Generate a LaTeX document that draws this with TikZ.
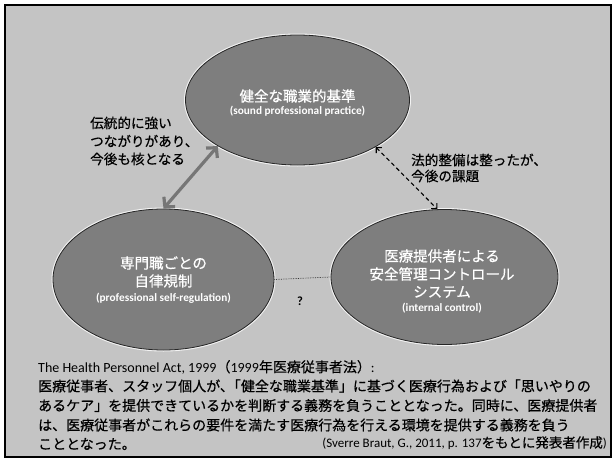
\documentclass[tikz,border=0pt]{standalone}
\usepackage{fontspec}
\setmainfont{Carlito}
\newfontfamily\lat{Carlito}
\newfontfamily\jp[FakeBold=0.5]{Noto Sans CJK JP}
\usetikzlibrary{shapes.geometric,arrows.meta}
\definecolor{bgc}{HTML}{C4C4C4}
\definecolor{elc}{HTML}{7E7E7E}
\definecolor{arc}{HTML}{767676}
\begin{document}
\begin{tikzpicture}[x=1pt,y=-1pt,
  ell/.style={ellipse, draw=black!85, line width=0.8pt, fill=elc, inner sep=0pt,
    preaction={draw=white!80!bgc, line width=3pt}},
  wtx/.style={text=white, inner sep=0pt, anchor=center},
  jpw/.style={wtx, font=\jp\fontsize{14.5}{16}\selectfont},
  enw/.style={wtx, font=\lat\bfseries\fontsize{11.3}{13}\selectfont},
  lbl/.style={inner sep=0pt, anchor=west, font=\jp\fontsize{13.6}{15}\selectfont},
  bodyline/.style={inner sep=0pt, anchor=west, font=\jp\fontsize{14}{16}\selectfont},
  citeline/.style={inner sep=0pt, anchor=east, font=\jp\fontsize{13.5}{15}\selectfont},
  bigarrow/.style={draw=arc, line width=3.2pt, {Straight Barb[length=7pt,width=15pt]}-{Straight Barb[length=7pt,width=15pt]}},
  dasharrow/.style={draw=black, line width=1.1pt, dash pattern=on 4pt off 3pt, {Straight Barb[length=4pt,width=8pt]}-{Straight Barb[length=4pt,width=8pt]}},
  dotline/.style={draw=black!80, line width=0.7pt, densely dotted}
]
\useasboundingbox (0,0) rectangle (614,461);
\fill[white] (0,0) rectangle (614,461);
\fill[bgc] (5,5) rectangle (611,457);
\draw[black, line width=1.6pt] (5,5) rectangle (611,457);

% ellipses
\node[ell, minimum width=224pt, minimum height=130pt] (top) at (297.5,100) {};
\node[ell, minimum width=221pt, minimum height=141pt] (left) at (163.5,279.5) {};
\node[ell, minimum width=227pt, minimum height=135pt] (right) at (444.5,277) {};

% ellipse texts
\node[jpw] (topA) at (297.5,96) {健全な職業的基準};
\node[enw] (topB) at (297.5,111) {(sound professional practice)};
\node[jpw] (leftA) at (163.5,263) {専門職ごとの};
\node[jpw] (leftB) at (163.5,281) {自律規制};
\node[enw] (leftC) at (163.5,298) {(professional self-regulation)};
\node[jpw] (rightA) at (442,256) {医療提供者による};
\node[jpw] (rightB) at (442,274) {安全管理コントロール};
\node[jpw] (rightC) at (442,292) {システム};
\node[enw] (rightD) at (442,308) {(internal control)};

% connectors
\draw[bigarrow] (top.210.6) -- (left.north);
\draw[dasharrow] (top.329.8) -- (right.96.6);
\draw[dotline] (left.east) -- (right.west);
\node[inner sep=0pt, font=\lat\bfseries\fontsize{12.5}{14}\selectfont] (q) at (300,301) {?};

% labels
\node[lbl] (l1) at (90,123) {伝統的に強い};
\node[lbl] (l2) at (90,141) {つながりがあり、};
\node[lbl] (l3) at (90,159) {今後も核となる};
\node[lbl] (r1) at (411,160) {法的整備は整ったが、};
\node[lbl] (r2) at (411,176) {今後の課題};

% bottom text
\node[bodyline] (b1) at (38,367) {{\lat\fontsize{14}{16}\selectfont The Health Personnel Act, 1999}（{\lat\fontsize{14}{16}\selectfont 1999}年医療従事者法）{\lat\fontsize{14}{16}\selectfont :}};
\node[bodyline] (b2) at (38,386) {医療従事者、スタッフ個人が、\kern-0.5em「健全な職業基準」に基づく医療行為および「思いやりの};
\node[bodyline] (b3) at (38,405.5) {あるケア」を提供できているかを判断する義務を負うこととなった。同時に、医療提供者};
\node[bodyline] (b4) at (38,425) {は、医療従事者がこれらの要件を満たす医療行為を行える環境を提供する義務を負う};
\node[bodyline] (b5) at (38,444) {こととなった。};
\node[citeline] (cite) at (607,443) {{\lat\fontsize{13}{15}\selectfont (Sverre Braut, G., 2011, p. 137}をもとに発表者作成{\lat\fontsize{13}{15}\selectfont )}};
\end{tikzpicture}
\end{document}
